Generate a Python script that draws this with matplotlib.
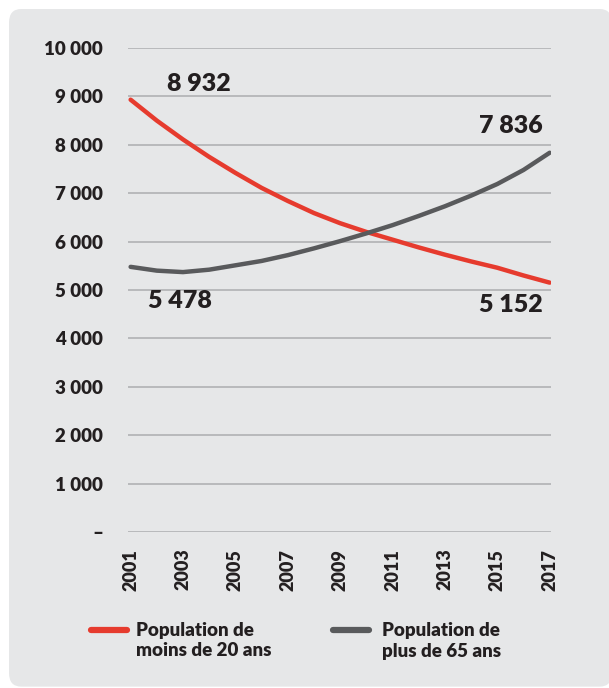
import matplotlib
matplotlib.use('Agg')
import matplotlib.pyplot as plt
from matplotlib.patches import FancyBboxPatch
from matplotlib.lines import Line2D

plt.rcParams['font.family'] = ['Lato', 'DejaVu Sans']
plt.rcParams['font.weight'] = 'heavy'

years = list(range(2001, 2018))
moins_20 = [8932, 8500, 8110, 7750, 7420, 7110, 6840, 6590, 6380,
            6200, 6040, 5880, 5730, 5590, 5460, 5300, 5152]
plus_65 = [5478, 5400, 5370, 5420, 5510, 5600, 5720, 5860, 6010,
           6170, 6340, 6530, 6730, 6950, 7190, 7480, 7836]
year_ticks = [2001, 2003, 2005, 2007, 2009, 2011, 2013, 2015, 2017]
y_ticks = [0, 1000, 2000, 3000, 4000, 5000, 6000, 7000, 8000, 9000, 10000]
y_labels = ['–', '1 000', '2 000', '3 000', '4 000', '5 000', '6 000',
            '7 000', '8 000', '9 000', '10 000']

red = '#e63b2e'
grey = '#595a5c'
ink = '#231f20'
W, H = 609, 688

fig = plt.figure(figsize=(W / 100, H / 100), dpi=100)
fig.patch.set_facecolor('white')

# rounded grey panel behind everything
panel = FancyBboxPatch((9 / W, 0.002), 0.99, 1 - 9 / H - 0.002,
                       boxstyle='round,pad=0,rounding_size=0.02',
                       transform=fig.transFigure, facecolor='#e6e7e8',
                       edgecolor='none', zorder=-10)
fig.patches.append(panel)

ax = fig.add_axes([128 / W, 1 - 532 / H, (551 - 128) / W, (532 - 48) / H])
ax.set_facecolor('none')

ax.plot(years, moins_20, color=red, lw=3.2, solid_capstyle='round', zorder=3)
ax.plot(years, plus_65, color=grey, lw=3.2, solid_capstyle='round', zorder=3)

ax.set_xlim(2000.9, 2017.05)
ax.set_ylim(0, 10000)
ax.set_yticks(y_ticks)
ax.set_yticklabels(y_labels)
ax.set_xticks(year_ticks)
ax.set_xticklabels([str(y) for y in year_ticks], rotation=90)
ax.tick_params(length=0, labelcolor=ink)
ax.tick_params(axis='y', pad=18, labelsize=13.5)
ax.tick_params(axis='x', pad=12, labelsize=13)
for lab in ax.get_xticklabels() + ax.get_yticklabels():
    lab.set_fontweight('heavy')

ax.grid(axis='y', color='#b5b6b8', lw=1.3)
ax.set_axisbelow(True)
for s in ax.spines.values():
    s.set_visible(False)

# value labels at the ends of each curve
lbl = dict(fontsize=18, fontweight='heavy', color=ink)
ax.text(2003.6, moins_20[0] + 320, '8 932', ha='center', va='center', **lbl)
ax.text(2002.9, plus_65[0] - 700, '5 478', ha='center', va='center', **lbl)
ax.text(2016.75, plus_65[-1] + 560, '7 836', ha='right', va='center', **lbl)
ax.text(2016.75, moins_20[-1] - 470, '5 152', ha='right', va='center', **lbl)

# legend built by hand: short line swatch + two-line caption
legend_items = [(red, 'Population de\nmoins de 20 ans', 91, 136),
                (grey, 'Population de\nplus de 65 ans', 333, 382)]
for color, text, x0, xt in legend_items:
    fig.add_artist(Line2D([x0 / W, (x0 + 36) / W], [1 - 630 / H] * 2,
                          transform=fig.transFigure, color=color, lw=4.5,
                          solid_capstyle='round'))
    fig.text(xt / W, 1 - 622 / H, text, ha='left', va='top', fontsize=13.5,
             fontweight='heavy', color=ink, linespacing=1.25)

fig.savefig('out.png', dpi=100)
